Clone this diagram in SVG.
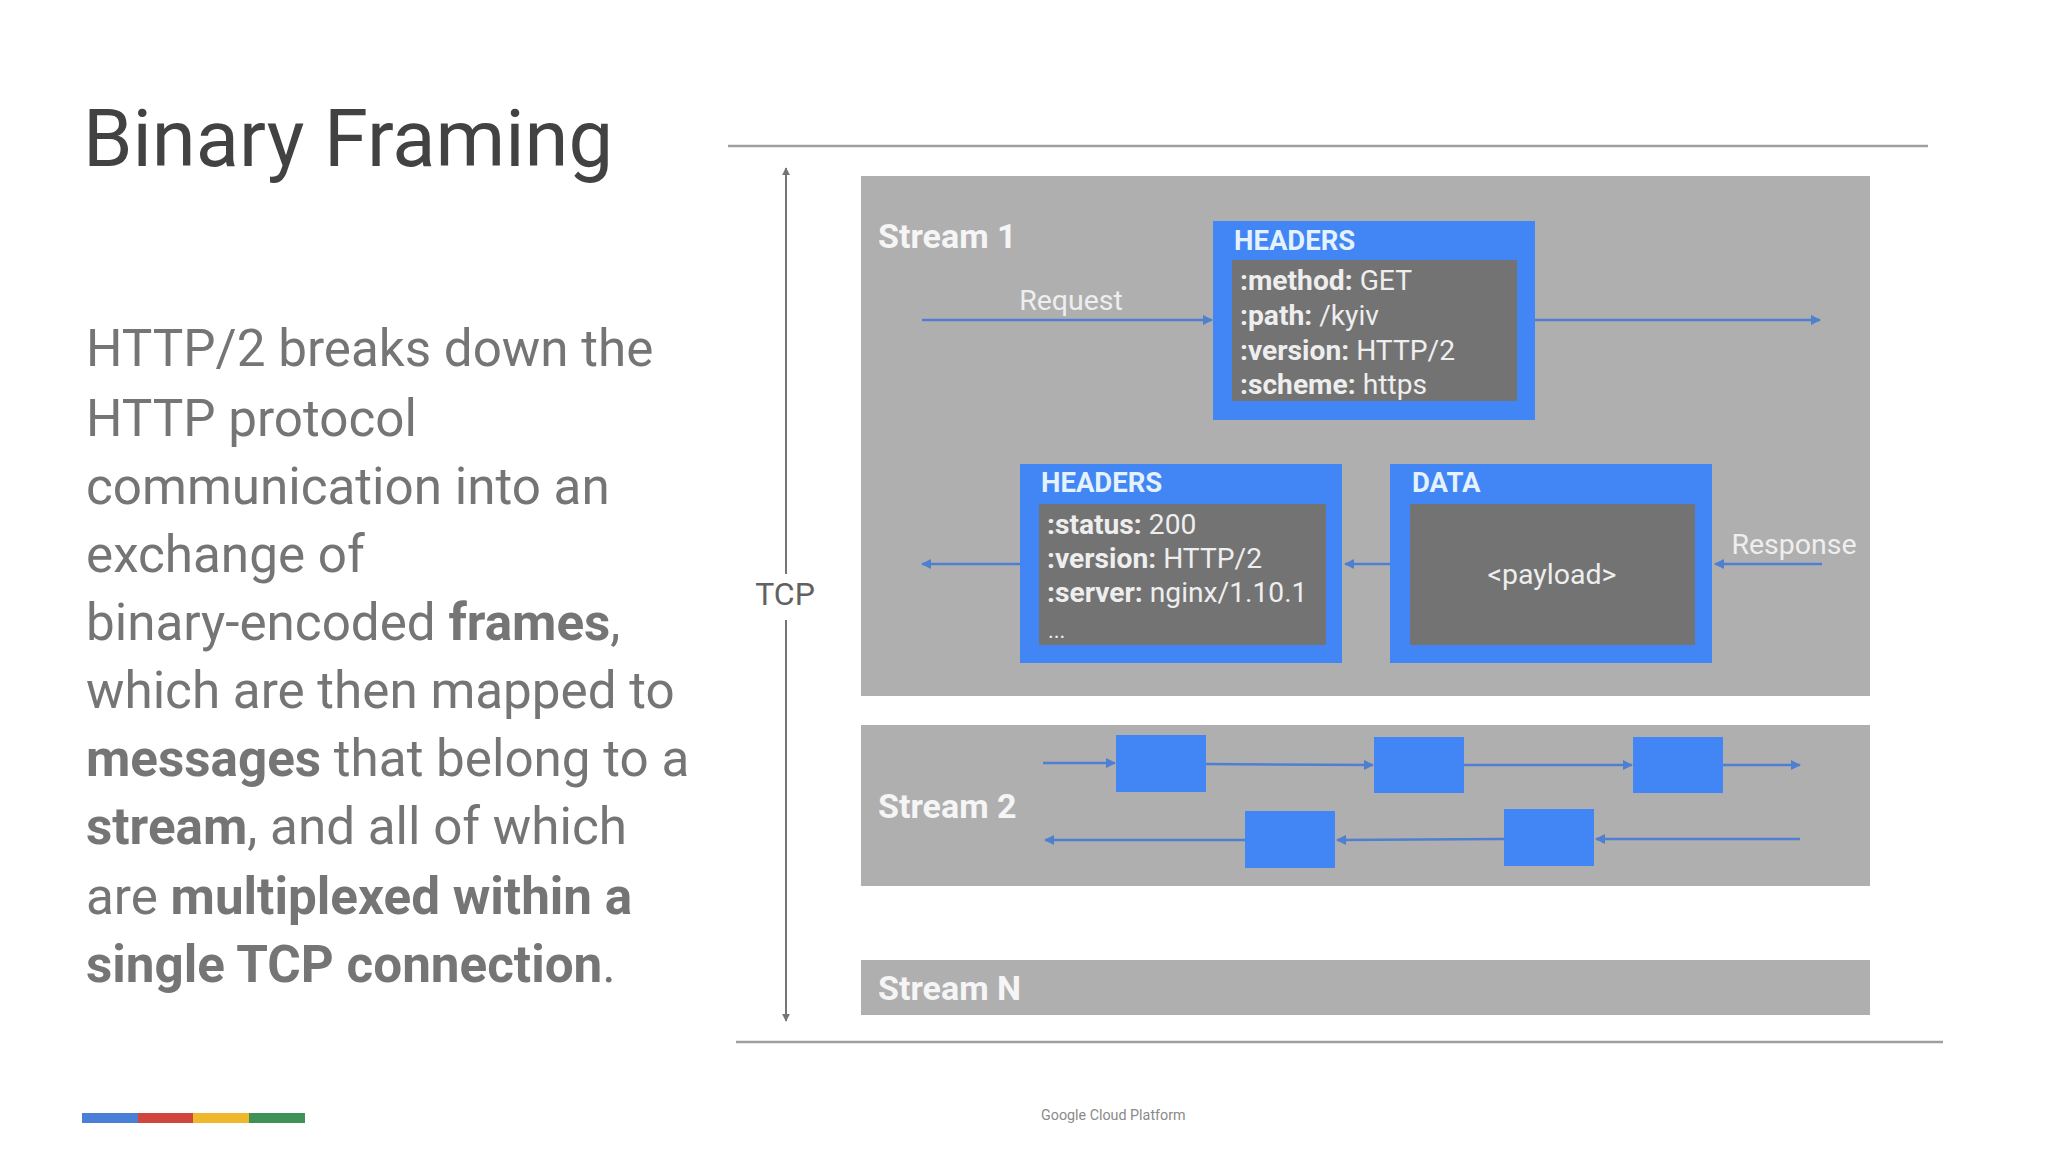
<svg xmlns="http://www.w3.org/2000/svg" width="2048" height="1152" viewBox="0 0 2048 1152">
<style>
text{font-family:Roboto,"Liberation Sans",sans-serif}
.band{fill:#b0afb0}
.blue{fill:#4285f4}
.inner{fill:#737373}
.st{font-size:34px;font-weight:700;fill:#f5f5f5}
.hd{font-size:27.5px;font-weight:700;fill:#e3f2fd}
.kv{font-size:28.2px;fill:#eeeeee}
.kv tspan{font-weight:700}
.lb{font-size:28.5px;fill:#eeeeee}
.body{font-size:51.2px;fill:#757575}
.b{font-weight:700}
.cn{stroke:#4f7fd0;stroke-width:2.5;fill:none;marker-end:url(#a)}
.rule{stroke:#9e9e9e;stroke-width:2.5}
</style>
<defs>
<marker id="a" viewBox="0 0 10 10" refX="9" refY="5" markerWidth="4" markerHeight="4" orient="auto"><path d="M0 0L10 5L0 10z" fill="#4f7fd0"/></marker>
<marker id="g" viewBox="0 0 10 10" refX="9" refY="5" markerWidth="4" markerHeight="4" orient="auto"><path d="M0 0L10 5L0 10z" fill="#757575"/></marker>
</defs>
<rect width="2048" height="1152" fill="#fff"/>
<text id="title" x="83" y="166" font-size="79.5" fill="#424242">Binary Framing</text>
<text id="body" class="body">
<tspan x="86" y="366">HTTP/2 breaks down the</tspan>
<tspan x="86" y="436">HTTP protocol</tspan>
<tspan x="86" y="504">communication into an</tspan>
<tspan x="86" y="572">exchange of</tspan>
<tspan x="86" y="640">binary-encoded </tspan><tspan class="b">frames</tspan><tspan>,</tspan>
<tspan x="86" y="708">which are then mapped to</tspan>
<tspan class="b" x="86" y="776">messages</tspan><tspan> that belong to a</tspan>
<tspan class="b" x="86" y="844">stream</tspan><tspan>, and all of which</tspan>
<tspan x="86" y="914">are </tspan><tspan class="b">multiplexed within a</tspan>
<tspan class="b" x="86" y="982">single TCP connection</tspan><tspan>.</tspan>
</text>
<g id="rules">
<line class="rule" x1="728" y1="146" x2="1928" y2="146"/>
<line class="rule" x1="736" y1="1042" x2="1943" y2="1042"/>
</g>
<g id="stream-1"><rect class="band" x="861" y="176" width="1009" height="520"/><text class="st" x="878" y="248">Stream 1</text></g>
<g id="stream-2"><rect class="band" x="861" y="725" width="1009" height="161"/><text class="st" x="878" y="818">Stream 2</text></g>
<g id="stream-n"><rect class="band" x="861" y="960" width="1009" height="55"/><text class="st" x="878" y="1000">Stream N</text></g>
<g id="tcp"><text x="785" y="605" font-size="32" fill="#616161" text-anchor="middle">TCP</text></g>
<g id="request-headers">
<rect class="blue" x="1213" y="221" width="322" height="199"/>
<rect class="inner" x="1232" y="260" width="285" height="141"/>
<text class="hd" x="1234" y="250">HEADERS</text>
<text class="kv" x="1240" y="290"><tspan>:method:</tspan> GET</text>
<text class="kv" x="1240" y="325"><tspan>:path:</tspan> /kyiv</text>
<text class="kv" x="1240" y="360"><tspan>:version:</tspan> HTTP/2</text>
<text class="kv" x="1240" y="394"><tspan>:scheme:</tspan> https</text>
</g>
<g id="response-headers">
<rect class="blue" x="1020" y="464" width="322" height="199"/>
<rect class="inner" x="1039" y="504" width="287" height="141"/>
<text class="hd" x="1041" y="492">HEADERS</text>
<text class="kv" x="1047" y="534"><tspan>:status:</tspan> 200</text>
<text class="kv" x="1047" y="568"><tspan>:version:</tspan> HTTP/2</text>
<text class="kv" x="1047" y="602"><tspan>:server:</tspan> nginx/1.10.1</text>
<text class="kv" x="1048" y="638" style="font-size:22px">...</text>
</g>
<g id="response-data">
<rect class="blue" x="1390" y="464" width="322" height="199"/>
<rect class="inner" x="1410" y="504" width="285" height="141"/>
<text class="hd" x="1412" y="492">DATA</text>
<text class="kv" x="1552" y="584" text-anchor="middle" style="font-size:28.5px">&lt;payload&gt;</text>
</g>
<g id="stream-2-frames">
<rect id="f1" class="blue" x="1116" y="735" width="90" height="57"/>
<rect id="f2" class="blue" x="1374" y="737" width="90" height="56"/>
<rect id="f3" class="blue" x="1633" y="737" width="90" height="56"/>
<rect id="f4" class="blue" x="1245" y="811" width="90" height="57"/>
<rect id="f5" class="blue" x="1504" y="809" width="90" height="57"/>
</g>
<g id="labels">
<text class="lb" x="1071" y="310" text-anchor="middle">Request</text>
<text class="lb" x="1794" y="554" text-anchor="middle">Response</text>
</g>
<g id="connectors">
<line x1="786" y1="574" x2="786" y2="168" stroke="#757575" stroke-width="2" marker-end="url(#g)"/>
<line x1="786" y1="620" x2="786" y2="1021" stroke="#757575" stroke-width="2" marker-end="url(#g)"/>
<line class="cn" x1="922" y1="320" x2="1212" y2="320"/>
<line class="cn" x1="1535" y1="320" x2="1820" y2="320"/>
<line class="cn" x1="1020" y1="564" x2="922" y2="564"/>
<line class="cn" x1="1390" y1="564" x2="1345" y2="564"/>
<line class="cn" x1="1822" y1="564" x2="1715" y2="564"/>
<line class="cn" x1="1043" y1="763" x2="1115" y2="763"/>
<line class="cn" x1="1206" y1="764" x2="1373" y2="765"/>
<line class="cn" x1="1464" y1="765" x2="1632" y2="765"/>
<line class="cn" x1="1723" y1="765" x2="1800" y2="765"/>
<line class="cn" x1="1245" y1="840" x2="1045" y2="840"/>
<line class="cn" x1="1504" y1="839" x2="1337" y2="840"/>
<line class="cn" x1="1800" y1="839" x2="1596" y2="839"/>
</g>
<g id="colour-bar">
<rect x="82" y="1113" width="56" height="10" fill="#4a7fd8"/>
<rect x="138" y="1113" width="55" height="10" fill="#d0453c"/>
<rect x="193" y="1113" width="56" height="10" fill="#eeb72c"/>
<rect x="249" y="1113" width="56" height="10" fill="#3f9257"/>
</g>
<text id="footer" x="1041" y="1120" font-size="14.3" fill="#8a8a8a">Google Cloud Platform</text>
</svg>
